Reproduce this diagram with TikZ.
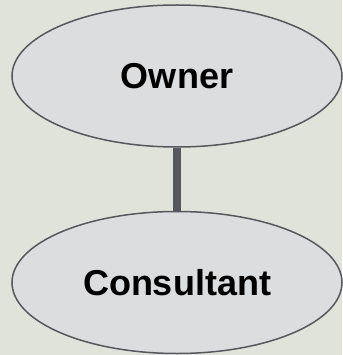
\documentclass[tikz,border=0pt]{standalone}
\usepackage{fontspec}
\setmainfont{Liberation Sans}
\usetikzlibrary{shapes.geometric, positioning}

\definecolor{bgcol}{HTML}{E0E3DA}
\definecolor{fillcol}{HTML}{DCDDDF}
\definecolor{edgecol}{HTML}{55585E}

\begin{document}
\begin{tikzpicture}[x = 1pt, y = -1pt,
    role/.style = {ellipse, draw = edgecol, line width = 1.5pt, fill = fillcol,
                   minimum width = 330pt, minimum height = 142pt, inner sep = 0pt,
                   font = \fontsize{36}{40}\selectfont\bfseries},
    link/.style = {draw = edgecol, line width = 8pt}]
    \fill[bgcol] (0,0) rectangle (342,355);
    \useasboundingbox (0,0) rectangle (342,355);
    % the two parties and the tie between them
    \node[role] (owner) at (177,76) {Owner};
    \node[role] (consultant) at (177,282.5) {Consultant};
    \draw[link] (owner) -- (consultant);
\end{tikzpicture}
\end{document}
